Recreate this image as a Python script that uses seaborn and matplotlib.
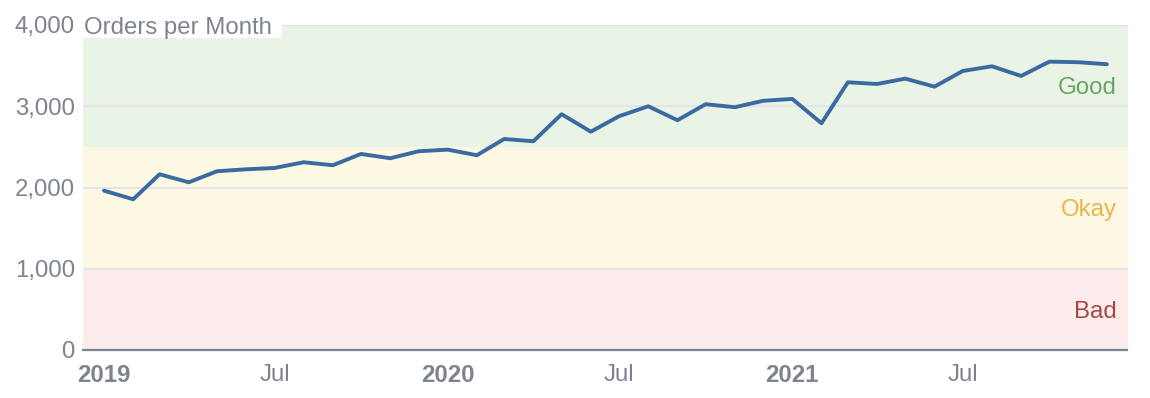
import numpy as np
import pandas as pd
import seaborn as sns
import matplotlib.pyplot as plt
import matplotlib.dates as mdates
import matplotlib.transforms as mtransforms
from matplotlib.patches import Rectangle

# monthly orders, Jan 2019 - Dec 2021
months = pd.date_range("2019-01-01", "2021-12-01", freq="MS")
orders = [1961, 1855, 2163, 2064, 2200, 2224, 2240, 2311, 2274, 2413, 2360, 2446,
          2466, 2397, 2597, 2569, 2902, 2687, 2877, 3000, 2828, 3025, 2988, 3067,
          3090, 2791, 3295, 3274, 3340, 3241, 3434, 3492, 3373, 3549, 3542, 3517]

# quality bands
band_names = ["Bad", "Okay", "Good"]
band_lo = [0, 1000, 2500]
band_hi = [1000, 2500, 4000]
band_fill = ["#f9eceb", "#fdf8e4", "#e9f4e6"]
band_text = ["#a94646", "#e8b54a", "#6aa464"]

df = pd.DataFrame({"month": months, "orders": orders})

sns.set_theme(style="white")
plt.rcParams["font.family"] = ["Liberation Sans", "DejaVu Sans"]
grey = "#7d8391"
fs = 17.3

fig = plt.figure(figsize=(11.5, 3.98), dpi=100)
ax = fig.add_axes([83.3 / 1150, 1 - 350 / 398, (1127.5 - 83.3) / 1150, 325 / 398])

trans = mtransforms.blended_transform_factory(ax.transAxes, ax.transData)
for name, lo, hi, fc, tc in zip(band_names, band_lo, band_hi, band_fill, band_text):
    ax.axhspan(lo, hi, color=fc, lw=0, zorder=0)
    ax.text(1 - 11 / 1044, (lo + hi) / 2, name, transform=trans, ha="right",
            va="center_baseline", color=tc, fontsize=fs, zorder=3)

for y in [1000, 2000, 3000, 4000]:
    ax.axhline(y, color="#e4e4e9", lw=1.4, zorder=1)

sns.lineplot(data=df, x="month", y="orders", ax=ax, color="#3b6aa0", lw=2.8, zorder=2)

ax.set_ylim(0, 4000)
ax.set_xlim(pd.Timestamp("2018-12-10"), pd.Timestamp("2021-12-23"))
ax.set_yticks([0, 1000, 2000, 3000, 4000])
ax.set_yticklabels(["0", "1,000", "2,000", "3,000", "4,000"])

xt = pd.date_range("2019-01-01", "2021-07-01", freq="6MS")
ax.set_xticks(xt)
ax.set_xticklabels([str(d.year) if d.month == 1 else "Jul" for d in xt])
for lab, d in zip(ax.get_xticklabels(), xt):
    if d.month == 1:
        lab.set_fontweight("bold")

ax.tick_params(axis="both", length=0, colors=grey, labelsize=fs)
ax.tick_params(axis="x", pad=10)
ax.tick_params(axis="y", pad=6)
ax.set_xlabel("")
ax.set_ylabel("")

for s in ["left", "right", "top"]:
    ax.spines[s].set_visible(False)
ax.spines["bottom"].set_color(grey)
ax.spines["bottom"].set_linewidth(1.6)
ax.spines["bottom"].set_zorder(4)

# title box over the top-left corner
ax.add_patch(Rectangle((0, 1 - 13 / 325), (282 - 83.3) / 1044.2, 60 / 325,
                       transform=ax.transAxes, facecolor="white", edgecolor="none",
                       clip_on=False, zorder=5))
ax.text(0.001, 1 - 9 / 325, "Orders per Month", transform=ax.transAxes, ha="left",
        va="baseline", color=grey, fontsize=fs, zorder=6)

fig.savefig("out.png", dpi=100)
